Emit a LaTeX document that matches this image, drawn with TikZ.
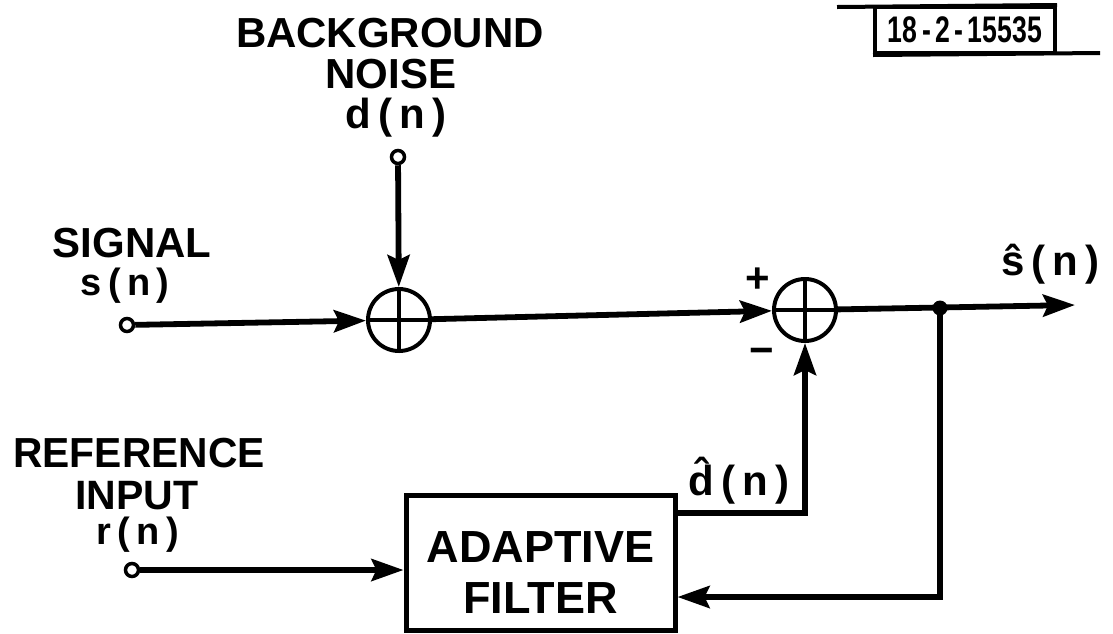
\documentclass[tikz,border=0pt]{standalone}
\usepackage{graphicx}
\usepackage{fontspec}
\setmainfont{Liberation Sans}
\usetikzlibrary{arrows.meta}
\begin{document}
\begin{tikzpicture}[x=1pt,y=-1pt,
  lbl/.style={font=\fontsize{42}{46}\selectfont\bfseries, anchor=base, inner sep=0pt},
  small/.style={font=\fontsize{38}{42}\selectfont\bfseries},
  sumnode/.style={circle, draw, line width=4pt, minimum size=62pt, inner sep=0pt},
  term/.style={circle, draw, line width=3.5pt, fill=white, minimum size=13pt, inner sep=0pt},
  conn/.style={line width=5.8pt},
  arr/.style={-{Stealth[length=32pt,width=22pt,inset=5pt]}},
  cross/.style={line width=3.5pt}]
\fill[white] (0,0) rectangle (1113,633);
\useasboundingbox (0,0) rectangle (1113,633);

% labels
\node[lbl] (bg1) at (390,47) {BACKGROUND};
\node[lbl] (bg2) at (391,88) {NOISE};
\node[lbl] (bg3) at (396,128) {d\,(\,n\,)};
\node[lbl] (sg1) at (132,257) {SIGNAL};
\node[lbl, small] (sg2) at (125,295) {s\,(\,n\,)};
\node[lbl, font=\fontsize{42}{46}\selectfont\bfseries] (rf1) at (139,467) {\scalebox{0.97}[1]{REFERENCE}};
\node[lbl, font=\fontsize{41}{45}\selectfont\bfseries] (rf2) at (137,509) {INPUT};
\node[lbl, small] (rf3) at (138,544) {r\,(\,n\,)};
\node[lbl] (dhl) at (739,495) {\accent"02C6 d\,(\,n\,)};
\node[lbl] (shl) at (1050,275) {\accent"02C6 s\,(\,n\,)};
\node[lbl] (plus) at (758,292) {+};
\node[lbl] (minus) at (762,364) {−};

% tag box
\node[draw, line width=4pt, minimum width=180pt, minimum height=46pt, inner sep=0pt,
      font=\fontsize{37}{40}\selectfont\bfseries] (num) at (965,30) {\scalebox{0.72}[1]{18\,-\,2\,-\,15535}};
\coordinate (tl) at (837,7);
\coordinate (br) at (1100,53);
\draw[line width=4pt] (tl) -- (num.north east);
\draw[line width=4pt] (num.south west) -- (br);

% nodes
\node[term] (dterm) at (398,157) {};
\node[term] (sterm) at (127,325) {};
\node[term] (rterm) at (132,570) {};
\node[sumnode] (s1) at (399,320) {};
\node[sumnode] (s2) at (805,310) {};
\draw[cross] (s1.north) -- (s1.south) (s1.west) -- (s1.east);
\draw[cross] (s2.north) -- (s2.south) (s2.west) -- (s2.east);
\node[draw, line width=5pt, minimum width=269pt, minimum height=135pt, inner sep=0pt,
      font=\fontsize{45}{51}\selectfont\bfseries, align=center] (flt) at (540.5,562.5)
      {\rule{0pt}{51pt}ADAPTIVE\\FILTER};
\coordinate (out) at (1075,305);
\node[circle, fill, minimum size=15pt, inner sep=0pt] (jn) at (940,308) {};
\coordinate (fbc) at (940,597);
\coordinate (dhc) at (805,513);

% connectors
\draw[conn, arr] (sterm) -- (s1);
\draw[conn, arr] (dterm) -- (s1);
\draw[conn, arr] (s1) -- (s2);
\draw[conn, arr] (s2) -- (out);
\draw[conn, arr] (jn.center) -- (fbc) -- (fbc -| flt.east);
\draw[conn, arr] (dhc -| flt.east) -- (dhc) -- (s2);
\draw[conn, arr] (rterm) -- (rterm -| flt.west);
\end{tikzpicture}
\end{document}
